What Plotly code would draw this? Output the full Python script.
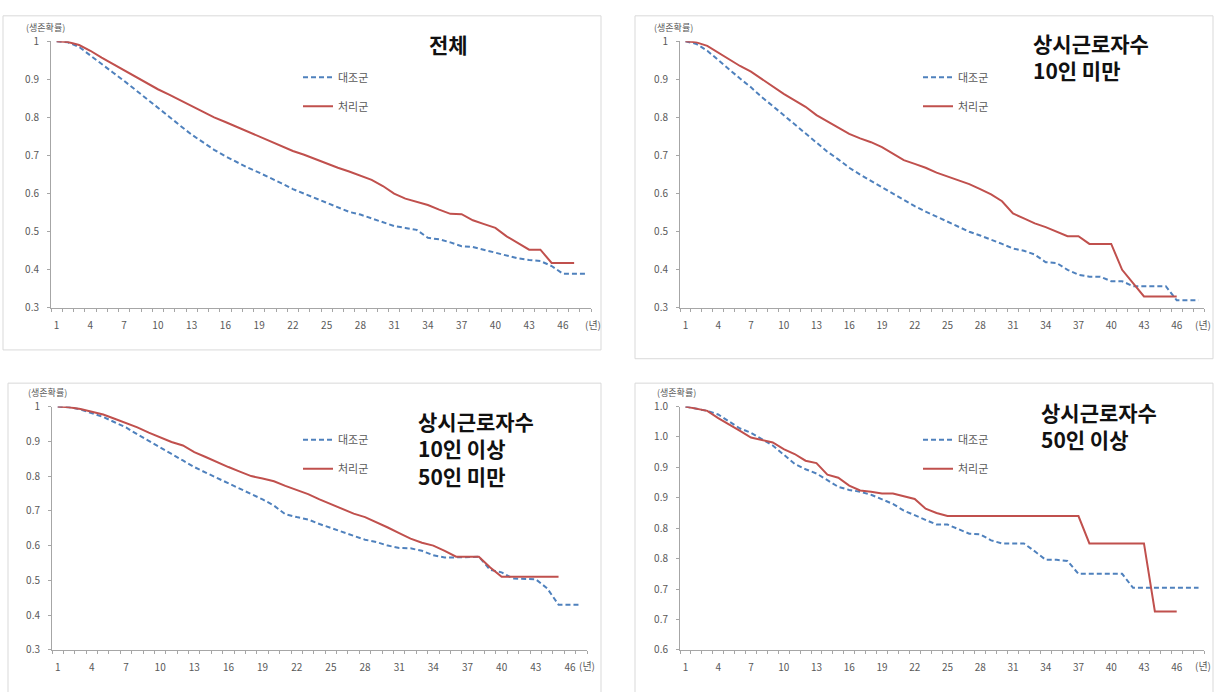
import plotly.graph_objects as go

W, H = 1214, 692

# ---------------- data ----------------
years48 = list(range(1, 49))
years47 = list(range(1, 48))
years46 = list(range(1, 47))
years45 = list(range(1, 46))

series_names = ["대조군", "처리군"]
panel_titles = [["전체"], ["상시근로자수", "10인 미만"],
                ["상시근로자수", "10인 이상", "50인 미만"], ["상시근로자수", "50인 이상"]]

p1_ctrl = [1.0, 0.997, 0.985, 0.962, 0.94, 0.918, 0.896, 0.873, 0.85, 0.825,
           0.802, 0.778, 0.755, 0.735, 0.715, 0.698, 0.682, 0.668, 0.655, 0.642,
           0.627, 0.612, 0.6, 0.588, 0.575, 0.562, 0.552, 0.545, 0.535, 0.527,
           0.515, 0.51, 0.505, 0.484, 0.48, 0.472, 0.462, 0.46, 0.452, 0.445,
           0.438, 0.43, 0.426, 0.423, 0.41, 0.39, 0.39, 0.39]
p1_treat = [1.0, 0.998, 0.99, 0.975, 0.957, 0.94, 0.925, 0.908, 0.89, 0.874,
            0.86, 0.845, 0.828, 0.814, 0.8, 0.788, 0.775, 0.762, 0.75, 0.738,
            0.724, 0.712, 0.702, 0.69, 0.679, 0.668, 0.658, 0.647, 0.636, 0.62,
            0.6, 0.587, 0.578, 0.57, 0.558, 0.547, 0.546, 0.53, 0.52, 0.51,
            0.488, 0.47, 0.453, 0.453, 0.418, 0.418, 0.418]

p2_ctrl = [1.0, 0.993, 0.975, 0.95, 0.925, 0.902, 0.879, 0.853, 0.83, 0.806,
           0.782, 0.757, 0.733, 0.71, 0.69, 0.668, 0.65, 0.633, 0.618, 0.6,
           0.583, 0.567, 0.553, 0.54, 0.528, 0.513, 0.5, 0.49, 0.48, 0.468,
           0.456, 0.45, 0.44, 0.42, 0.418, 0.4, 0.387, 0.382, 0.382, 0.37,
           0.37, 0.357, 0.357, 0.357, 0.357, 0.32, 0.32, 0.32]
p2_treat = [1.0, 0.997, 0.988, 0.97, 0.952, 0.935, 0.92, 0.9, 0.88, 0.862,
            0.845, 0.828, 0.806, 0.79, 0.774, 0.757, 0.745, 0.735, 0.722, 0.705,
            0.688, 0.678, 0.668, 0.655, 0.645, 0.635, 0.625, 0.612, 0.598, 0.58,
            0.548, 0.535, 0.522, 0.512, 0.5, 0.488, 0.488, 0.468, 0.468, 0.468,
            0.4, 0.365, 0.33, 0.33, 0.33, 0.33]

p3_ctrl = [1.0, 0.998, 0.992, 0.981, 0.97, 0.955, 0.94, 0.92, 0.902, 0.883,
           0.864, 0.845, 0.826, 0.81, 0.795, 0.78, 0.765, 0.748, 0.733, 0.715,
           0.69, 0.682, 0.675, 0.662, 0.65, 0.64, 0.628, 0.617, 0.61, 0.6,
           0.593, 0.592, 0.585, 0.572, 0.566, 0.566, 0.568, 0.568, 0.53, 0.523,
           0.505, 0.503, 0.503, 0.477, 0.43, 0.43, 0.43]
p3_treat = [1.0, 0.998, 0.993, 0.986, 0.977, 0.965, 0.953, 0.94, 0.925, 0.911,
            0.898, 0.888, 0.869, 0.855, 0.84, 0.826, 0.813, 0.8, 0.793, 0.785,
            0.772, 0.761, 0.748, 0.733, 0.719, 0.705, 0.692, 0.682, 0.668, 0.652,
            0.636, 0.62, 0.608, 0.6, 0.585, 0.568, 0.568, 0.568, 0.537, 0.51,
            0.51, 0.51, 0.51, 0.51, 0.51]

p4_ctrl = [1.0, 0.996, 0.993, 0.987, 0.976, 0.964, 0.957, 0.947, 0.936, 0.921,
           0.906, 0.897, 0.89, 0.879, 0.868, 0.863, 0.86, 0.855, 0.848, 0.84,
           0.829, 0.821, 0.814, 0.806, 0.806, 0.799, 0.791, 0.79, 0.78, 0.775,
           0.775, 0.775, 0.762, 0.748, 0.748, 0.746, 0.725, 0.725, 0.725, 0.725,
           0.725, 0.702, 0.702, 0.702, 0.702, 0.702, 0.702, 0.702]
p4_treat = [1.0, 0.996, 0.993, 0.981, 0.971, 0.96, 0.949, 0.945, 0.941, 0.93,
            0.922, 0.911, 0.907, 0.888, 0.883, 0.87, 0.862, 0.86, 0.857, 0.857,
            0.853, 0.848, 0.832, 0.825, 0.82, 0.82, 0.82, 0.82, 0.82, 0.82,
            0.82, 0.82, 0.82, 0.82, 0.82, 0.82, 0.82, 0.775, 0.775, 0.775,
            0.775, 0.775, 0.775, 0.663, 0.663, 0.663]

x_tickvals = list(range(1, 47, 3))
x_ticktext = [str(v) for v in x_tickvals]
y_tick_a = [0.3, 0.4, 0.5, 0.6, 0.7, 0.8, 0.9, 1.0]
y_text_a = ["0.3", "0.4", "0.5", "0.6", "0.7", "0.8", "0.9", "1"]
y_tick_b = [0.6, 0.65, 0.7, 0.75, 0.8, 0.85, 0.9, 0.95, 1.0]
y_text_b = ["0.6", "0.7", "0.7", "0.8", "0.8", "0.9", "0.9", "1.0", "1.0"]

# ---------------- styling ----------------
BLUE = "#4F81BD"
RED = "#C0504D"
AX = "#A6A6A6"
TXT = "#595959"
FONT = "Noto Sans CJK KR"

def px_x(v):
    return v / W

def px_y(v):
    return 1 - v / H

panels = [
    dict(x=(years48, years47), ctrl=p1_ctrl, treat=p1_treat, xd=(51, 591), yd=(33, 306),
         xr=(0.5, 48.5), yr=(0.3, 1.0), yt=(y_tick_a, y_text_a),
         leg=(298, 55), title_x=448, title_y=36, title_anchor="center",
         ylab=(45, 19), yearlab=(593, 323)),
    dict(x=(years48, years46), ctrl=p2_ctrl, treat=p2_treat, xd=(680, 1204), yd=(33, 306),
         xr=(0.5, 48.5), yr=(0.3, 1.0), yt=(y_tick_a, y_text_a),
         leg=(918, 55), title_x=1031, title_y=49, title_anchor="left",
         ylab=(674, 19), yearlab=(1203, 323)),
    dict(x=(years47, years45), ctrl=p3_ctrl, treat=p3_treat, xd=(52, 587), yd=(407, 656),
         xr=(0.5, 47.5), yr=(0.3, 1.0), yt=(y_tick_a, y_text_a),
         leg=(298, 426), title_x=416, title_y=450, title_anchor="left",
         ylab=(48, 393), yearlab=(587, 672)),
    dict(x=(years48, years46), ctrl=p4_ctrl, treat=p4_treat, xd=(680, 1204), yd=(407, 656),
         xr=(0.5, 48.5), yr=(0.6, 1.0), yt=(y_tick_b, y_text_b),
         leg=(918, 426), title_x=1039, title_y=426, title_anchor="left",
         ylab=(676, 393), yearlab=(1203, 672)),
]

fig = go.Figure()
layout = dict(width=W, height=H, margin=dict(l=0, r=0, t=0, b=0),
              paper_bgcolor="white", plot_bgcolor="white",
              font=dict(family=FONT, color=TXT, size=10))
annotations = []
shapes = []

for i, p in enumerate(panels):
    n = i + 1
    xa = "x" if n == 1 else f"x{n}"
    ya = "y" if n == 1 else f"y{n}"
    legname = "legend" if n == 1 else f"legend{n}"
    fig.add_trace(go.Scatter(x=p["x"][0], y=p["ctrl"], mode="lines", name=series_names[0],
                             line=dict(color=BLUE, width=2, dash="5px,3px"),
                             xaxis=xa, yaxis=ya, legend=legname, legendgroup=f"c{n}"))
    fig.add_trace(go.Scatter(x=p["x"][1], y=p["treat"], mode="lines", name=series_names[1],
                             line=dict(color=RED, width=2),
                             xaxis=xa, yaxis=ya, legend=legname, legendgroup=f"t{n}"))
    xkey = "xaxis" if n == 1 else f"xaxis{n}"
    ykey = "yaxis" if n == 1 else f"yaxis{n}"
    layout[xkey] = dict(domain=[px_x(p["xd"][0]), px_x(p["xd"][1])], range=list(p["xr"]),
                        anchor=ya, showgrid=False, zeroline=False, showline=True,
                        linecolor=AX, linewidth=1, tickmode="array", tickvals=x_tickvals,
                        ticktext=x_ticktext, ticks="", ticklabelstandoff=8,
                        tickfont=dict(size=10, color=TXT),
                        minor=dict(tickmode="linear", tick0=0.5, dtick=1, ticks="outside",
                                   ticklen=3, tickcolor=AX, tickwidth=1),
                        fixedrange=True)
    layout[ykey] = dict(domain=[px_y(p["yd"][1]), px_y(p["yd"][0])], range=list(p["yr"]),
                        anchor=xa, showgrid=False, zeroline=False, showline=True,
                        linecolor=AX, linewidth=1, tickmode="array", tickvals=p["yt"][0],
                        ticktext=p["yt"][1], ticks="outside", ticklen=3, tickcolor=AX,
                        ticklabelstandoff=6, tickfont=dict(size=10, color=TXT), fixedrange=True)
    layout[legname] = dict(x=px_x(p["leg"][0]), y=px_y(p["leg"][1]), xanchor="left", yanchor="top",
                           bgcolor="rgba(0,0,0,0)", font=dict(size=11, color=TXT, family=FONT),
                           itemwidth=30, tracegroupgap=10, traceorder="grouped")
    title_html = "<br>".join(f"<b>{t}</b>" for t in panel_titles[i])
    annotations.append(dict(xref="paper", yref="paper", x=px_x(p["title_x"]), y=px_y(p["title_y"]),
                            text=title_html, showarrow=False, align="left",
                            xanchor="center" if p["title_anchor"] == "center" else "left",
                            yanchor="middle",
                            font=dict(size=21, color="#111111", family=FONT)))
    annotations.append(dict(xref="paper", yref="paper", x=px_x(p["ylab"][0]), y=px_y(p["ylab"][1]),
                            text="(생존확률)", showarrow=False, xanchor="center", yanchor="middle",
                            font=dict(size=9, color=TXT, family=FONT)))
    annotations.append(dict(xref="paper", yref="paper", x=px_x(p["yearlab"][0]), y=px_y(p["yearlab"][1]),
                            text="(년)", showarrow=False, xanchor="center", yanchor="middle",
                            font=dict(size=10, color=TXT, family=FONT)))

frames = [(3, 7, 601, 349), (635, 7, 1213, 358), (8, 383, 601, 700), (635, 383, 1213, 700)]
for (x0, y0, x1, y1) in frames:
    shapes.append(dict(type="rect", xref="paper", yref="paper", x0=px_x(x0), x1=px_x(x1),
                       y0=px_y(y1), y1=px_y(y0), line=dict(color="#D9D9D9", width=1),
                       fillcolor="rgba(0,0,0,0)", layer="below"))

layout["annotations"] = annotations
layout["shapes"] = shapes
fig.update_layout(**layout)
fig.write_html("out.html", config={"displayModeBar": False},
               post_script="document.body.style.margin='0';document.body.style.overflow='hidden';")
